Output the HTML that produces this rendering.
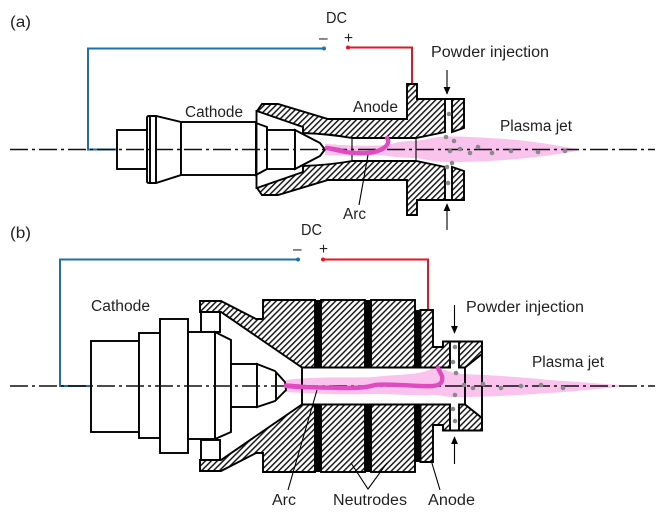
<!DOCTYPE html>
<html><head><meta charset="utf-8">
<style>
html,body{margin:0;padding:0;background:#fff;width:663px;height:522px;overflow:hidden}
svg{display:block}
text{font-family:"Liberation Sans",sans-serif;font-size:15.5px;fill:#222}
.s{stroke:#000;stroke-width:1.9;fill:none;stroke-linejoin:miter}
.w{stroke:#000;stroke-width:1.9;fill:#fff}
.h{stroke:#000;stroke-width:1.9;fill:url(#hatch)}
.t{stroke:#000;stroke-width:1.1;fill:none}
.ax{stroke:#111;stroke-width:1.5;stroke-dasharray:18 4 3 4;fill:none}
.jet{fill:#f9c3ee;stroke:none;mix-blend-mode:multiply}
.arc{fill:none;stroke:#df4cc0;stroke-width:4.4;stroke-linecap:round;stroke-linejoin:round}
.d{fill:#8a8a8a}
</style></head><body>
<svg width="663" height="522" viewBox="0 0 663 522" xmlns="http://www.w3.org/2000/svg">
<defs>
<pattern id="hatch" width="4.2" height="4.2" patternUnits="userSpaceOnUse" patternTransform="rotate(45)">
<rect width="4.2" height="4.2" fill="#fff"/><rect width="1.5" height="4.2" fill="#1a1a1a"/>
</pattern>
<marker id="ar" viewBox="0 0 10 10" refX="9" refY="5" markerWidth="8" markerHeight="7" orient="auto" markerUnits="userSpaceOnUse" preserveAspectRatio="none"><path d="M0,0L10,5L0,10Z" fill="#000"/></marker>
</defs>

<!-- (a) wires -->
<path d="M117,149.5H88V48.5H324" fill="none" stroke="#1f6fae" stroke-width="2"/>
<circle cx="324" cy="48.5" r="2" fill="#1f6fae"/>
<path d="M348,47.5H412V84" fill="none" stroke="#e3171d" stroke-width="2"/>
<circle cx="348" cy="47.5" r="2" fill="#e3171d"/>

<!-- (a) cathode -->
<rect class="w" x="117" y="130" width="30" height="39"/>
<path class="w" d="M149,116H156L181,122V175L156,183H149Q147,183 147,181V118Q147,116 149,116Z"/>
<path class="s" d="M150,116V183M156,116V183"/>
<rect class="w" x="181" y="122" width="75" height="53"/>
<path class="w" d="M256,123L267,127V169L256,175Z"/>
<rect class="w" x="267" y="130" width="28" height="39"/>
<path class="w" d="M295,130L320,143L325,149.500L320,156L295,169Z"/>

<!-- (a) nozzle -->
<path class="h" d="M257,111L262,104H278L328,119H407V84H417V99H445V132L416,138H352Q330,134 303,133V127Z"/>
<path class="h" d="M257,188L262,195H278L328,180H407V215H417V200H445V167L416,161H352Q330,165 303,166V172Z"/>
<path class="s" d="M256.500,110V189"/>
<path class="h" d="M452,99H464V128L452,132Z"/>
<path class="h" d="M452,200H464V171L452,167Z"/>
<path class="s" d="M445,99H452M445,200H452"/>
<path class="t" d="M352,138V161M416,138V161" stroke-width="1.5"/>

<!-- (a) jet, axis, arc -->
<path class="ax" d="M10,149.500H655"/>
<path class="jet" d="M325,144C345,145 375,148 395,143C405,140 418,142 432,138C445,135 475,137 505,139C535,141 560,146 582,150C560,154 535,158 505,160C475,162 445,163 432,161C418,157 405,158 395,157C375,153 345,157 325,155Z"/>
<path class="arc" d="M327,148C338,150 345,153 356,153C368,154 378,152 384,148C389,144 389,141 387,138"/>
<path class="arc" d="M327,148L340,150" stroke-width="6"/>
<g class="d">
<circle cx="449" cy="114" r="2.300"/><circle cx="446" cy="137" r="2.300"/><circle cx="454" cy="141" r="2.300"/><circle cx="450" cy="151" r="2.300"/><circle cx="460" cy="149" r="2.300"/><circle cx="478" cy="147" r="2.300"/><circle cx="470" cy="153" r="2.300"/><circle cx="492" cy="153" r="2.300"/><circle cx="511" cy="151" r="2.300"/><circle cx="538" cy="152" r="2.300"/><circle cx="565" cy="151" r="2.300"/><circle cx="452" cy="163" r="2.300"/><circle cx="447" cy="167" r="2.300"/><circle cx="448" cy="183" r="2.300"/>
</g>
<path class="t" d="M368,155L359,205" stroke-width="1.3"/>
<path class="t" d="M447,70V94" stroke-width="1.4" marker-end="url(#ar)"/>
<path class="t" d="M447,230V204" stroke-width="1.4" marker-end="url(#ar)"/>

<!-- (b) wires -->
<path d="M91,386H60V259.500H298" fill="none" stroke="#1f6fae" stroke-width="2"/>
<circle cx="298" cy="259.500" r="2" fill="#1f6fae"/>
<path d="M323,259.500H428V310" fill="none" stroke="#e3171d" stroke-width="2"/>
<circle cx="323" cy="259.500" r="2" fill="#e3171d"/>

<!-- (b) nozzle -->
<rect class="w" x="201" y="312" width="19" height="20"/>
<rect class="w" x="201" y="440" width="19" height="20"/>
<path class="h" d="M200,301H221L256,319H263V300H315V367.500H302L221,312H200Z"/>
<path class="h" d="M200,471H221L256,453H263V472H315V404.500H302L221,460H200Z"/>
<rect x="315" y="300" width="6" height="68" fill="#000"/>
<rect x="315" y="404" width="6" height="68" fill="#000"/>
<rect class="h" x="321" y="300" width="44" height="67.500"/>
<rect class="h" x="321" y="404.500" width="44" height="67.500"/>
<rect x="365" y="300" width="6" height="68" fill="#000"/>
<rect x="365" y="404" width="6" height="68" fill="#000"/>
<rect class="h" x="371" y="300" width="44" height="67.500"/>
<rect class="h" x="371" y="404.500" width="44" height="67.500"/>
<rect x="414.500" y="310" width="6" height="58" fill="#000"/>
<rect x="414.500" y="404" width="6" height="58" fill="#000"/>
<path class="h" d="M420.500,310H433V347H443V341.500H450V367.500H420.500Z"/>
<path class="h" d="M420.500,462H433V425H443V430.500H450V404.500H420.500Z"/>
<path class="h" d="M459,341.500H482V354L465,367.500H459Z"/>
<path class="h" d="M459,430.500H482V418L465,404.500H459Z"/>
<path class="s" d="M450,341.500H459M450,430.500H459M482,341.500V430.500M302,367.500V404.500M302,367.500H450M302,404.500H450M465,367.500V404.500"/>

<!-- (b) cathode -->
<rect class="w" x="91" y="341" width="48" height="91"/>
<rect class="w" x="139" y="333" width="21" height="105"/>
<rect class="w" x="160" y="319" width="28" height="134"/>
<rect class="w" x="188" y="332" width="27" height="107"/>
<path class="w" d="M215,332L231,340V432L215,439Z"/>
<rect class="w" x="231" y="364" width="26" height="43"/>
<path class="w" d="M257,364L275,371L285,382L286,390L275,401L257,407Z"/>
<path class="s" d="M276,372V400"/>

<!-- (b) jet, axis, arc -->
<path class="ax" d="M10,386H655"/>
<path class="jet" d="M286,380C320,376 345,378 375,377C395,374 420,376 433,368C440,367 447,372 462,374C490,375 520,377 550,380C580,382 605,384 630,386C605,388 580,391 550,393C520,395 490,397 462,397C447,398 440,394 430,395C410,396 395,394 375,394C345,395 320,394 286,392Z"/>
<path class="arc" d="M286,386C300,388 320,387 340,388C355,388 365,388 375,385C395,383 415,387 433,386C441,385 443,382 442,376L438,368"/>
<path class="arc" d="M286,385.500L305,387" stroke-width="6.500"/>
<g class="d">
<circle cx="455" cy="347" r="2.300"/><circle cx="453" cy="362" r="2.300"/><circle cx="456" cy="373" r="2.300"/><circle cx="464" cy="385" r="2.300"/><circle cx="473" cy="388" r="2.300"/><circle cx="483" cy="384" r="2.300"/><circle cx="501" cy="388" r="2.300"/><circle cx="521" cy="386" r="2.300"/><circle cx="541" cy="385" r="2.300"/><circle cx="563" cy="388" r="2.300"/><circle cx="455" cy="395" r="2.300"/><circle cx="453" cy="409" r="2.300"/><circle cx="455" cy="421" r="2.300"/>
</g>
<path class="t" d="M317,390L288,490" stroke-width="1.300"/>
<path class="t" d="M351,463L368,489L387,463" stroke-width="1.300"/>
<path class="t" d="M431,460L440,490" stroke-width="1.300"/>
<path class="t" d="M454.500,305V333" stroke-width="1.400" marker-end="url(#ar)"/>
<path class="t" d="M454.500,464V437" stroke-width="1.400" marker-end="url(#ar)"/>

<!-- labels -->
<text x="10" y="27" textLength="21" lengthAdjust="spacingAndGlyphs">(a)</text>
<text x="326" y="23" textLength="21" lengthAdjust="spacingAndGlyphs">DC</text>
<text x="319" y="43">–</text>
<text x="344" y="43">+</text>
<text x="431" y="57" textLength="118" lengthAdjust="spacingAndGlyphs">Powder injection</text>
<text x="185" y="117" textLength="58" lengthAdjust="spacingAndGlyphs">Cathode</text>
<text x="353" y="112" textLength="45" lengthAdjust="spacingAndGlyphs">Anode</text>
<text x="500" y="131" textLength="72" lengthAdjust="spacingAndGlyphs">Plasma jet</text>
<text x="343" y="219" textLength="23" lengthAdjust="spacingAndGlyphs">Arc</text>
<text x="10" y="238" textLength="21" lengthAdjust="spacingAndGlyphs">(b)</text>
<text x="301" y="235" textLength="21" lengthAdjust="spacingAndGlyphs">DC</text>
<text x="293" y="254">–</text>
<text x="319" y="254">+</text>
<text x="91" y="311" textLength="59" lengthAdjust="spacingAndGlyphs">Cathode</text>
<text x="466" y="312" textLength="118" lengthAdjust="spacingAndGlyphs">Powder injection</text>
<text x="532" y="367" textLength="72" lengthAdjust="spacingAndGlyphs">Plasma jet</text>
<text x="272" y="505" textLength="24" lengthAdjust="spacingAndGlyphs">Arc</text>
<text x="333" y="505" textLength="74" lengthAdjust="spacingAndGlyphs">Neutrodes</text>
<text x="428" y="505" textLength="47" lengthAdjust="spacingAndGlyphs">Anode</text>
</svg>
</body></html>
